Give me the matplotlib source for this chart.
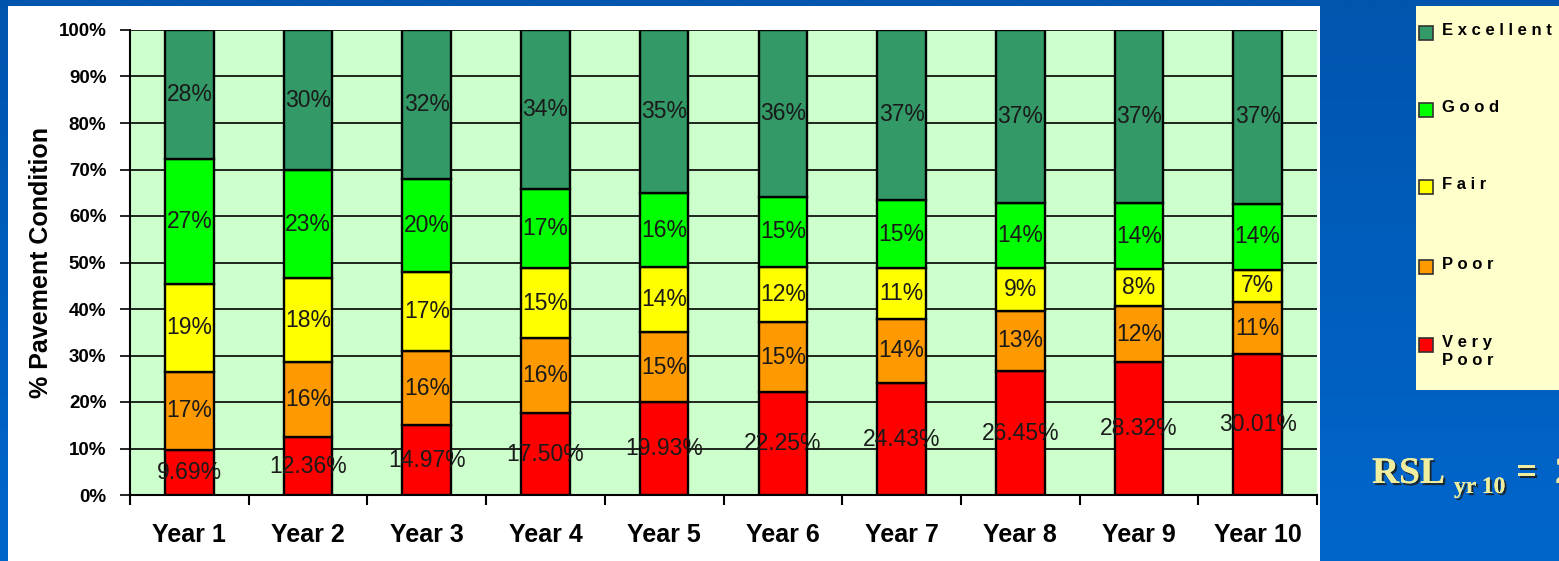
import numpy as np
import matplotlib
matplotlib.use("Agg")
import matplotlib.pyplot as plt
import matplotlib.patheffects as pe
from matplotlib.patches import Rectangle
from matplotlib.colors import LinearSegmentedColormap

W, H = 1559, 561

years = [f"Year {i}" for i in range(1, 11)]
conditions = ["Very Poor", "Poor", "Fair", "Good", "Excellent"]
very_poor = [9.69, 12.36, 14.97, 17.50, 19.93, 22.25, 24.43, 26.45, 28.32, 30.01]
poor = [17, 16, 16, 16, 15, 15, 14, 13, 12, 11]
fair = [19, 18, 17, 15, 14, 12, 11, 9, 8, 7]
good = [27, 23, 20, 17, 16, 15, 15, 14, 14, 14]
excellent = [28, 30, 32, 34, 35, 36, 37, 37, 37, 37]
colors = ["#ff0000", "#ff9900", "#ffff00", "#00ff00", "#339966"]

series = [very_poor, poor, fair, good, excellent]
label_fmt = ["{:.2f}%", "{:.0f}%", "{:.0f}%", "{:.0f}%", "{:.0f}%"]

SANS = "Liberation Sans"
SERIF = "Liberation Serif"


def fx(px):
    return px / W


def fy(py):
    return 1 - py / H


fig = plt.figure(figsize=(W / 100, H / 100), dpi=100)

# blue slide background with a slight vertical gradient
bg = fig.add_axes([0, 0, 1, 1], zorder=-3)
cmap = LinearSegmentedColormap.from_list("slide", ["#0066cc", "#0055ad"])
bg.imshow(np.linspace(0, 1, 256).reshape(-1, 1), aspect="auto", cmap=cmap,
          extent=[0, 1, 0, 1], origin="lower")
bg.axis("off")

# white chart panel
fig.patches.append(Rectangle((fx(8), 0), fx(1320) - fx(8), fy(6),
                             transform=fig.transFigure, facecolor="white",
                             edgecolor="none", zorder=-2))

ax = fig.add_axes([fx(130), fy(495), fx(1317) - fx(130), fy(30) - fy(495)])
ax.set_facecolor("#ccffcc")

x = np.arange(len(years))
values = np.array(series, dtype=float)
shares = values / values.sum(axis=0) * 100
bottom = np.zeros(len(years))
for vals, share, color, fmt in zip(values, shares, colors, label_fmt):
    bars = ax.bar(x, share, 0.41, bottom=bottom, color=color,
                  edgecolor="black", linewidth=1.7, zorder=2)
    ax.bar_label(bars, labels=[fmt.format(v) for v in vals], label_type="center",
                 fontsize=16.5, family=SANS, color="#1a1a1a", zorder=3)
    bottom += share

ax.set_xlim(-0.5, len(years) - 0.5)
ax.set_ylim(0, 100)
ax.set_yticks(np.arange(0, 101, 10))
ax.set_yticklabels([f"{v}%" for v in range(0, 101, 10)], fontsize=13.5,
                   fontweight="bold", family=SANS)
ax.yaxis.grid(True, color="black", linewidth=1.2)
ax.set_axisbelow(True)
ax.tick_params(axis="y", length=7, width=1.2, pad=10, direction="out")

ax.set_xticks(x)
ax.set_xticklabels(years, fontsize=18, fontweight="bold", family=SANS)
ax.set_xticks(np.arange(-0.5, len(years), 1), minor=True)
ax.tick_params(axis="x", which="major", length=0, pad=20)
ax.tick_params(axis="x", which="minor", length=7, width=1.5, direction="out")

for s in ["top", "right"]:
    ax.spines[s].set_visible(False)
for s in ["left", "bottom"]:
    ax.spines[s].set_linewidth(1.5)

ax.set_ylabel("% Pavement Condition", fontsize=18, fontweight="bold",
              family=SANS, labelpad=4)

# legend panel on the right
fig.patches.append(Rectangle((fx(1416), fy(390)), 1 - fx(1416), fy(6) - fy(390),
                             transform=fig.transFigure, facecolor="#ffffcc",
                             edgecolor="none", zorder=-1))
legend_y = [33, 110, 187, 267, 345]
for name, color, ly in zip(conditions[::-1], colors[::-1], legend_y):
    fig.patches.append(Rectangle((fx(1419), fy(ly + 7)), fx(14), 14 / H,
                                 transform=fig.transFigure, facecolor=color,
                                 edgecolor="#333333", linewidth=1.2, zorder=1))
    text = "\n".join(" ".join(word) for word in name.split())
    fig.text(fx(1442), fy(ly - 10), text, ha="left", va="top", fontsize=12,
             fontweight="bold", family=SANS, color="black", linespacing=1.25)

# RSL annotation
shadow = [pe.withSimplePatchShadow(offset=(1.5, -1.5), shadow_rgbFace="#202020", alpha=0.9),
          pe.Normal()]
rsl_color = "#eeee9e"
fig.text(fx(1372), fy(483), "RSL", ha="left", va="baseline", fontsize=27,
         fontweight="bold", family=SERIF, color=rsl_color, path_effects=shadow)
fig.text(fx(1454), fy(493), "yr 10", ha="left", va="baseline", fontsize=17,
         fontweight="bold", family=SERIF, color=rsl_color, path_effects=shadow)
fig.text(fx(1516), fy(483), "=", ha="left", va="baseline", fontsize=27,
         fontweight="bold", family=SERIF, color=rsl_color, path_effects=shadow)
fig.text(fx(1555), fy(483), "2", ha="left", va="baseline", fontsize=27,
         fontweight="bold", family=SERIF, color=rsl_color, path_effects=shadow)

fig.savefig("out.png", dpi=100)
plt.close(fig)
